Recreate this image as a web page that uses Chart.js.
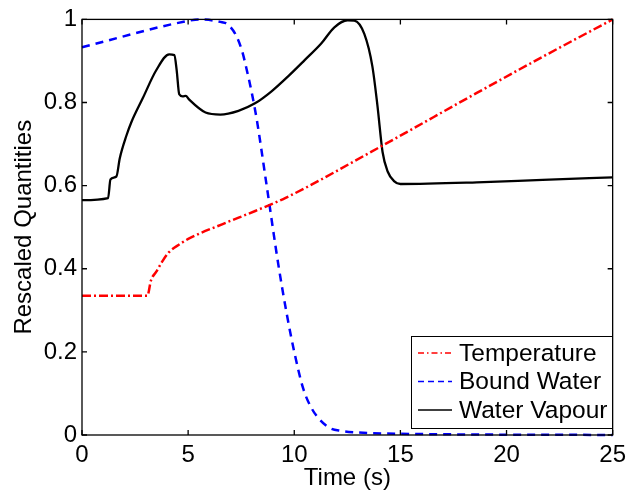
<!DOCTYPE html>
<html>
<head>
<meta charset="utf-8">
<script src="https://cdn.jsdelivr.net/npm/chart.js@4"></script>
<style>
  html, body { margin: 0; padding: 0; background: #fff; }
  #wrap { width: 632px; height: 493px; }
</style>
</head>
<body>
<div id="wrap"><canvas id="myChart" width="632" height="493"></canvas></div>
<script>
// Values
const tempTime = [0, 3.08, 3.25, 3.5, 3.8, 4.1, 4.6, 5.05, 6.6, 8.16, 9.57, 13.93, 18.6, 21.7, 25]
const tempValues = [0.335, 0.335, 0.372, 0.393, 0.419, 0.44, 0.459, 0.473, 0.507, 0.539, 0.57, 0.69, 0.823, 0.91, 1.0]

const boundTime = [0, 5.05, 5.5, 6.6, 6.83, 7.22, 7.53, 7.76, 8.0, 8.23, 8.7, 9.25, 9.64, 10.0, 10.42, 10.81, 11.2, 11.67, 12.2, 13, 15, 25]
const boundValues = [0.933, 0.997, 1.0, 0.993, 0.989, 0.965, 0.926, 0.879, 0.823, 0.76, 0.6, 0.41, 0.293, 0.2, 0.112, 0.065, 0.037, 0.017, 0.01, 0.006, 0.003, 0.0]

const vapourTime = [0, 1.23, 1.34, 1.62, 1.78, 2.09, 2.32, 2.86, 3.49, 4.11, 4.35, 4.46, 4.58, 4.74, 4.89, 5.03, 5.82, 6.52, 7.37, 8.15, 8.93, 9.71, 10.49, 11.27, 11.89, 12.51, 12.83, 13.3, 13.68, 13.92, 14.16, 14.4, 14.7, 15.0, 18.6, 21.7, 25]
const vapourValues = [0.565, 0.57, 0.615, 0.622, 0.666, 0.72, 0.752, 0.81, 0.877, 0.916, 0.914, 0.878, 0.82, 0.815, 0.816, 0.808, 0.776, 0.771, 0.78, 0.798, 0.827, 0.863, 0.902, 0.942, 0.981, 0.998, 0.997, 0.965, 0.887, 0.792, 0.681, 0.634, 0.611, 0.604, 0.608, 0.614, 0.62]

const xTicks = [0, 5, 10, 15, 20, 25]
const yTicks = [0, 0.2, 0.4, 0.6, 0.8, 1]

const seriesLabels = ['Temperature', 'Bound Water', 'Water Vapour']

// pair up time and value arrays for chart.js
function toPoints(t, v) {
  let pts = []
  for (let i = 0; i < t.length; i++) {
    pts.push({x: t[i], y: v[i]})
  }
  return pts
}

const FONT = '"Liberation Sans", Arial, Helvetica, sans-serif'
Chart.defaults.font.family = FONT
Chart.defaults.font.size = 24
Chart.defaults.color = '#000'

// legend dash patterns (smaller than in the plot)
const legendDash = [[6, 3, 1.5, 3], [6, 4], []]

// box around axes, inward ticks, and a boxed legend like matlab
const matlabAxes = {
  id: 'matlabAxes',
  afterDraw(chart) {
    const {ctx, chartArea} = chart
    const xs = chart.scales.x
    const ys = chart.scales.y
    ctx.save()
    ctx.strokeStyle = '#000'
    ctx.lineWidth = 1.3
    ctx.setLineDash([])
    ctx.beginPath()
    xTicks.forEach(v => {
      let px = xs.getPixelForValue(v)
      ctx.moveTo(px, chartArea.bottom)
      ctx.lineTo(px, chartArea.bottom - 5)
      ctx.moveTo(px, chartArea.top)
      ctx.lineTo(px, chartArea.top + 5)
    })
    yTicks.forEach(v => {
      let py = ys.getPixelForValue(v)
      ctx.moveTo(chartArea.left, py)
      ctx.lineTo(chartArea.left + 5, py)
      ctx.moveTo(chartArea.right, py)
      ctx.lineTo(chartArea.right - 5, py)
    })
    ctx.stroke()
    ctx.strokeRect(chartArea.left, chartArea.top, chartArea.right - chartArea.left, chartArea.bottom - chartArea.top)

    // legend
    const bx = 411, by = 336, bw = 201, bh = 92
    ctx.fillStyle = '#fff'
    ctx.fillRect(bx, by, bw, bh)
    ctx.lineWidth = 1
    ctx.strokeRect(bx + 0.5, by + 0.5, bw, bh)
    ctx.font = '24.5px ' + FONT
    ctx.textBaseline = 'middle'
    ctx.textAlign = 'left'
    chart.data.datasets.forEach((ds, i) => {
      let y = by + 17 + i * 28.5
      ctx.strokeStyle = ds.borderColor
      ctx.lineWidth = 1.5
      ctx.setLineDash(legendDash[i])
      ctx.beginPath()
      ctx.moveTo(bx + 7, y)
      ctx.lineTo(bx + 41, y)
      ctx.stroke()
      ctx.setLineDash([])
      ctx.fillStyle = '#000'
      ctx.fillText(ds.label, bx + 48, y + 1)
    })
    ctx.restore()
  }
}

var ctx = document.getElementById('myChart').getContext('2d')
var myChart = new Chart(ctx, {
  type: 'line',
  data: {
    datasets: [{
      label: seriesLabels[0],
      data: toPoints(tempTime, tempValues),
      borderColor: '#ff0000',
      borderWidth: 2.5,
      borderDash: [9, 3, 2, 3],
      pointRadius: 0,
      cubicInterpolationMode: 'monotone',
      clip: 4
    },
    {
      label: seriesLabels[1],
      data: toPoints(boundTime, boundValues),
      borderColor: '#0000ff',
      borderWidth: 2.5,
      borderDash: [8, 6],
      pointRadius: 0,
      cubicInterpolationMode: 'monotone',
      clip: 4
    },
    {
      label: seriesLabels[2],
      data: toPoints(vapourTime, vapourValues),
      borderColor: '#000000',
      borderWidth: 2.3,
      pointRadius: 0,
      cubicInterpolationMode: 'monotone',
      clip: 4
    }]
  },
  options: {
    responsive: false,
    animation: false,
    layout: {padding: {top: 12, right: 15, left: 0, bottom: 0}},
    plugins: {
      legend: {display: false},
      tooltip: {enabled: false}
    },
    scales: {
      x: {
        type: 'linear',
        min: 0,
        max: 25,
        afterBuildTicks: (scale) => { scale.ticks = xTicks.map(v => ({value: v})) },
        afterFit: (scale) => { scale.height = 58 },
        grid: {display: false, drawTicks: false, tickLength: 0},
        border: {display: false},
        ticks: {padding: 6, maxRotation: 0, autoSkip: false},
        title: {display: true, text: 'Time (s)', padding: {top: 0, bottom: 0}}
      },
      y: {
        type: 'linear',
        min: 0,
        max: 1,
        afterBuildTicks: (scale) => { scale.ticks = yTicks.map(v => ({value: v})) },
        afterFit: (scale) => { scale.width = 82 },
        grid: {display: false, drawTicks: false, tickLength: 0},
        border: {display: false},
        ticks: {padding: 5, callback: (v) => String(+v.toFixed(1))},
        title: {display: true, text: 'Rescaled Quantities', padding: {top: 10, bottom: 0}}
      }
    }
  },
  plugins: [matlabAxes]
})
</script>
</body>
</html>
